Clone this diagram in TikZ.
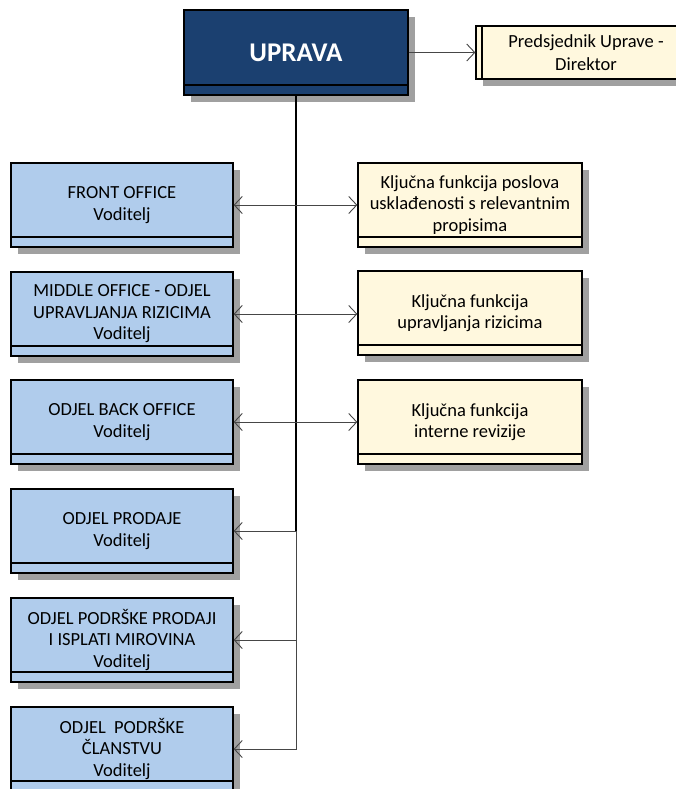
\documentclass[tikz,border=0pt]{standalone}
\usepackage{fontspec}
\setmainfont{Carlito}
\usetikzlibrary{arrows.meta,shadows}
\definecolor{unitblue}{RGB}{176,204,236}
\definecolor{boardnavy}{RGB}{27,64,112}
\definecolor{keyyellow}{RGB}{255,248,222}
\definecolor{shadowgray}{RGB}{160,160,160}
\definecolor{linegray}{RGB}{70,70,70}
\begin{document}
\begin{tikzpicture}[x=1pt,y=-1pt,
  box/.style={draw=black,line width=1.3pt,inner sep=0pt,align=center,
    minimum width=222pt,minimum height=84pt,
    font=\fontsize{18.5}{21.5}\selectfont,
    drop shadow={shadow xshift=7pt,shadow yshift=-7pt,fill=shadowgray,opacity=1},
    path picture={\draw[line width=1.3pt]
      ([yshift=10pt]path picture bounding box.south west) --
      ([yshift=10pt]path picture bounding box.south east);}},
  unit/.style={box,fill=unitblue},
  keyfn/.style={box,fill=keyyellow,minimum width=224pt},
  board/.style={box,fill=boardnavy,text=white,minimum width=224pt,minimum height=85pt,
    font=\bfseries\fontsize{27}{32}\selectfont},
  head/.style={draw=black,line width=1.3pt,inner sep=0pt,align=center,fill=keyyellow,
    minimum width=220pt,minimum height=53pt,
    font=\fontsize{18.5}{22.5}\selectfont,
    drop shadow={shadow xshift=7pt,shadow yshift=-7pt,fill=shadowgray,opacity=1},
    path picture={\draw[line width=1.3pt]
      ([xshift=6pt]path picture bounding box.south west) --
      ([xshift=6pt]path picture bounding box.north west);}},
  tip/.tip={Straight Barb[length=8pt,width=17pt,line width=0.9pt]},
  link/.style={draw=linegray,line width=0.9pt}]
\useasboundingbox (0,0) rectangle (676,789);
\clip (0,0) rectangle (676,789);
\node[board] (1) at (296,52.5) {UPRAVA};
\node[head] (2) at (586,52.5) {Predsjednik Uprave -\\Direktor};
\node[unit] (3) at (122,205) {FRONT OFFICE\\Voditelj};
\node[unit] (4) at (122,314) {MIDDLE OFFICE - ODJEL\\UPRAVLJANJA RIZICIMA\\Voditelj};
\node[unit] (5) at (122,422) {ODJEL BACK OFFICE\\Voditelj};
\node[unit] (6) at (122,531) {ODJEL PRODAJE\\Voditelj};
\node[unit] (7) at (122,640) {ODJEL PODRŠKE PRODAJI\\I ISPLATI MIROVINA\\Voditelj};
\node[unit] (8) at (122,749) {ODJEL\ \ PODRŠKE\\ČLANSTVU\\Voditelj};
\node[keyfn] (9) at (470,205) {Ključna funkcija poslova\\usklađenosti s relevantnim\\propisima};
\node[keyfn] (10) at (470,313) {Ključna funkcija\\upravljanja rizicima};
\node[keyfn] (11) at (470,422) {Ključna funkcija\\interne revizije};
\path[link,-tip] (1) -- (2);
\path[link,tip-] (6.east) -| (1.south);
\path[link,tip-] (7.east) -| (1.south);
\path[link,tip-] (8.east) -| (1.south);
\path[draw,line width=2pt] (1.south) -- (1.south|-6.east);
\path[link,tip-tip] (3.east) -- (9.west);
\path[link,tip-tip] (4.east) -- (4.east-|10.west);
\path[link,tip-tip] (5.east) -- (11.west);
\end{tikzpicture}
\end{document}
